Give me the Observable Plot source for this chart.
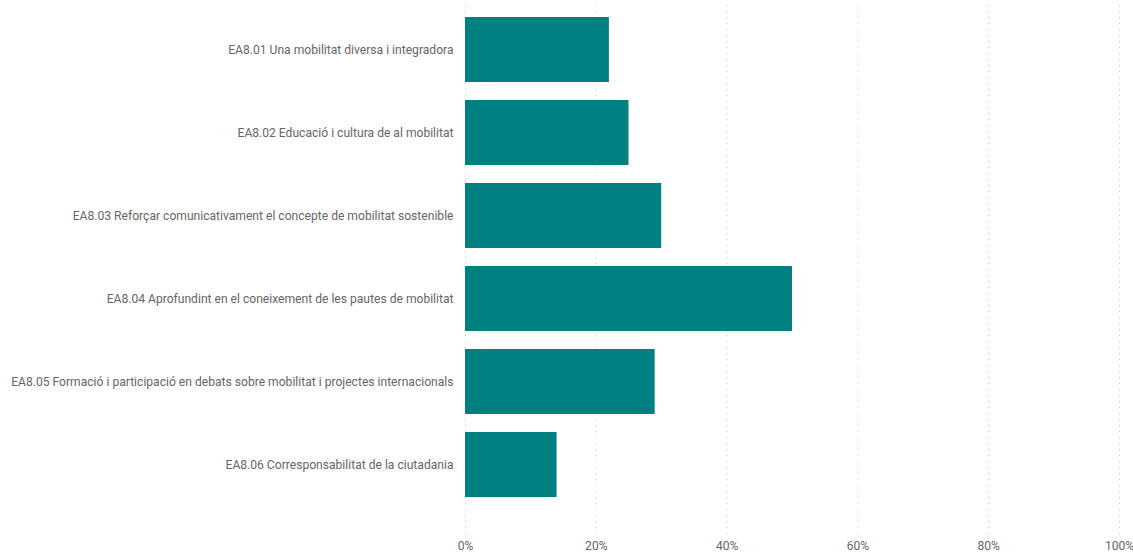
<!DOCTYPE html>
<html>
<head>
<meta charset="utf-8">
<script src="https://cdn.jsdelivr.net/npm/d3@7"></script>
<script src="https://cdn.jsdelivr.net/npm/@observablehq/plot@0.6"></script>
<style>
  html, body { margin: 0; padding: 0; background: #fff; }
  #chart { width: 1133px; height: 554px; overflow: hidden; }
</style>
</head>
<body>
<div id="chart"></div>
<script>
const categories = [
  "EA8.01 Una mobilitat diversa i integradora",
  "EA8.02 Educació i cultura de al mobilitat",
  "EA8.03 Reforçar comunicativament el concepte de mobilitat sostenible",
  "EA8.04 Aprofundint en el coneixement de les pautes de mobilitat",
  "EA8.05 Formació i participació en debats sobre mobilitat i projectes internacionals",
  "EA8.06 Corresponsabilitat de la ciutadania"
];
const values = [0.22, 0.25, 0.30, 0.50, 0.29, 0.14];
const xTicks = [0, 0.2, 0.4, 0.6, 0.8, 1.0];
const xTickLabels = ["0%", "20%", "40%", "60%", "80%", "100%"];

const data = categories.map((c, i) => ({category: c, value: values[i]}));

const chart = Plot.plot({
  width: 1133,
  height: 554,
  marginLeft: 465,
  marginRight: 14,
  marginTop: 12,
  marginBottom: 52,
  style: {fontFamily: "Roboto, sans-serif", fontSize: "12.1px", color: "#666"},
  x: {domain: [0, 1], ticks: xTicks},
  y: {domain: categories, paddingInner: 0.217, paddingOuter: 0.05, label: null},
  marks: [
    Plot.ruleX(xTicks, {stroke: "#c8c8c8", strokeDasharray: "1,5", insetTop: -7, insetBottom: -34}),
    Plot.barX(data, {x: "value", y: "category", fill: "#008080"}),
    Plot.axisY({tickSize: 0, tickPadding: 12, label: null, fill: "#666"}),
    Plot.axisX({ticks: xTicks, tickFormat: (d, i) => xTickLabels[i], tickSize: 0, tickPadding: 39, label: null, fill: "#666"})
  ]
});
document.getElementById("chart").appendChild(chart);
</script>
</body>
</html>
